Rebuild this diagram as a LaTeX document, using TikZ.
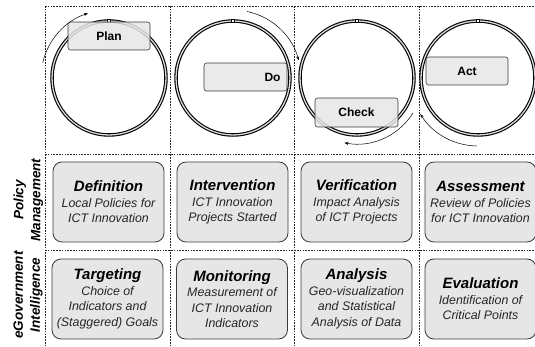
\documentclass[tikz,border=0pt]{standalone}
\usepackage{fontspec}
\setmainfont{Liberation Sans}
\usetikzlibrary{arrows.meta,calc}
\definecolor{boxfill}{HTML}{E6E6E6}
\definecolor{boxline}{HTML}{3A3A3A}
\tikzset{
  grid/.style={draw=black!85, line width=0.6pt, dash pattern=on 1.6pt off 1.2pt},
  ring/.style={draw=black, line width=1.1pt, double=white!85!black, double distance=1.3pt},
  pdca/.style={draw=boxline, line width=0.6pt, rounded corners=2.5pt, fill=boxfill, fill opacity=0.85, text opacity=1,
    minimum width=82pt, minimum height=28pt, inner sep=0pt, font=\fontsize{12}{14}\selectfont\bfseries},
  cell/.style={draw=boxline, line width=0.8pt, rounded corners=9pt, fill=boxfill,
    minimum width=111pt, minimum height=80pt, inner sep=0pt, align=center, text=black!85,
    font=\fontsize{12.4}{15.5}\selectfont\itshape},
  rowlab/.style={rotate=90, align=center, font=\fontsize{13.5}{17}\selectfont\bfseries\itshape},
  cyc/.style={draw=black, line width=0.5pt, -{Stealth[length=4pt,width=3pt]}},
  tick/.style={draw=black, line width=0.5pt, fill=white, minimum size=3pt, inner sep=0pt}
}
\newcommand{\ttl}[1]{{\fontsize{15}{17}\selectfont\bfseries\itshape\color{black}#1}}
\begin{document}
\begin{tikzpicture}[x=1pt,y=-1pt]
\useasboundingbox (0,0) rectangle (535,347);
% grid
\draw[grid] (45,6) -- (535,6);
\draw[grid] (45,154) -- (535,154);
\draw[grid] (45,250) -- (535,250);
\foreach \x in {45,170,294,419} \draw[grid] (\x,6) -- (\x,347);
% circle centres
\coordinate (c1) at (109,78);
\coordinate (c2) at (233,78);
\coordinate (c3) at (357,78);
\coordinate (c4) at (478,78);
\foreach \c in {c1,c2,c3,c4} {
  \draw[ring] (\c) circle[radius=57];
  \node[tick] at ($(\c)+(0,-57)$) {};
}
% boxes
\node[pdca] (plan) at (109,36) {Plan};
\node[pdca, text width=70pt, align=right, minimum width=83pt, inner xsep=6.5pt] (do) at (245.5,77) {Do};
\node[pdca, minimum width=83pt, minimum height=29pt] (check) at (356.5,112.5) {Check};
\node[pdca] (act) at (467,71) {Act};
% cycle arrows
\draw[cyc] ($(c1)+(-167:68)$) arc[start angle=-167, end angle=-108, radius=68];
\draw[cyc] ($(c2)+(-78:68)$) arc[start angle=-78, end angle=-15, radius=68];
\draw[cyc] ($(c3)+(32:66)$) arc[start angle=32, end angle=101, radius=66];
\draw[cyc] ($(c4)+(91:68)$) arc[start angle=91, end angle=148, radius=68];
% row labels
\node[rowlab] (pm) at (28.5,200) {Policy\\Management};
\node[rowlab] (egi) at (28,295) {eGovernment\\Intelligence};
% cells
\node[cell] (def) at (108.5,202) {\ttl{Definition}\\Local Policies for\\ICT Innovation};
\node[cell] (int) at (232.5,202) {\ttl{Intervention}\\ICT Innovation\\Projects Started};
\node[cell] (ver) at (356.5,202) {\ttl{Verification}\\Impact Analysis\\of ICT Projects};
\node[cell] (ass) at (480.5,202) {\ttl{Assessment}\\Review of Policies\\for ICT Innovation};
\node[cell] (tar) at (107.5,299) {\ttl{Targeting}\\Choice of\\Indicators and\\(Staggered) Goals};
\node[cell] (mon) at (232,299) {\ttl{Monitoring}\\Measurement of\\ICT Innovation\\Indicators};
\node[cell] (ana) at (356.5,299) {\ttl{Analysis}\\Geo-visualization\\and Statistical\\Analysis of Data};
\node[cell] (eva) at (480.5,299) {\ttl{Evaluation}\\Identification of\\Critical Points};
\end{tikzpicture}
\end{document}
